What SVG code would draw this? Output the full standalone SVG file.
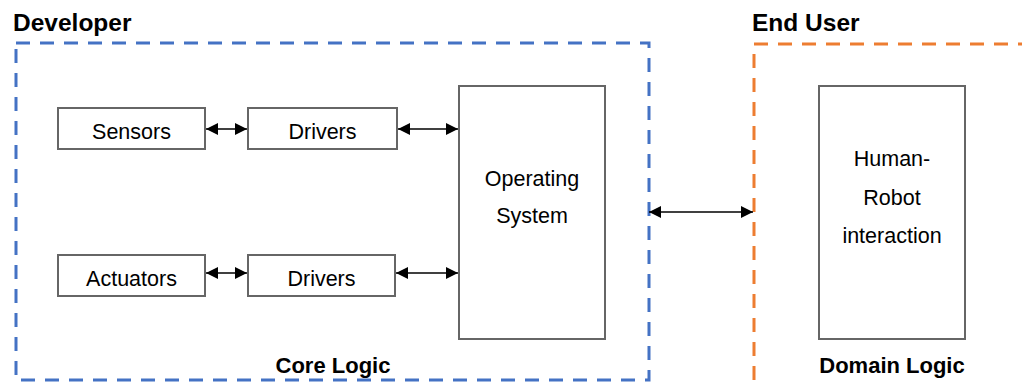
<svg xmlns="http://www.w3.org/2000/svg" width="1022" height="383" viewBox="0 0 1022 383">
  <style>
    .box { fill: #fff; stroke: #666; stroke-width: 2; }
    .lbl { font-family: "Liberation Sans", Arial, sans-serif; font-size: 21.5px; fill: #000; text-anchor: middle; }
    .title { font-family: "Liberation Sans", Arial, sans-serif; font-size: 24.5px; font-weight: bold; fill: #000; }
    .cap { font-family: "Liberation Sans", Arial, sans-serif; font-size: 22px; font-weight: bold; fill: #000; text-anchor: middle; }
    .zone { fill: none; stroke-width: 3; stroke-dasharray: 14 10; }
    .link { stroke: #000; stroke-width: 1.5; fill: none; marker-start: url(#ah); marker-end: url(#ah); }
  </style>
  <defs>
    <marker id="ah" viewBox="0 0 12 12" refX="12" refY="6" markerWidth="12" markerHeight="12" markerUnits="userSpaceOnUse" orient="auto-start-reverse">
      <path d="M0,0 L12,6 L0,12 Z" fill="#000"/>
    </marker>
  </defs>
  <rect width="1022" height="383" fill="#fff"/>

  <!-- zones -->
  <g id="developer">
    <rect class="zone" x="16" y="43" width="633" height="337" stroke="#4472C4"/>
    <text class="title" x="13" y="31">Developer</text>
    <text class="cap" x="333" y="373">Core Logic</text>
  </g>
  <g id="end-user">
    <rect class="zone" x="754" y="44" width="300" height="360" stroke="#ED7D31"/>
    <text class="title" x="752" y="31">End User</text>
    <text class="cap" x="892" y="373">Domain Logic</text>
  </g>

  <!-- nodes -->
  <g id="sensors">
    <rect class="box" x="58" y="108" width="147" height="41"/>
    <text class="lbl" x="131.5" y="139">Sensors</text>
  </g>
  <g id="drivers-top">
    <rect class="box" x="248" y="108" width="149" height="41"/>
    <text class="lbl" x="322.5" y="139">Drivers</text>
  </g>
  <g id="actuators">
    <rect class="box" x="58" y="255" width="147" height="41"/>
    <text class="lbl" x="131.5" y="286">Actuators</text>
  </g>
  <g id="drivers-bottom">
    <rect class="box" x="248" y="255" width="147" height="41"/>
    <text class="lbl" x="321.5" y="286">Drivers</text>
  </g>
  <g id="operating-system">
    <rect class="box" x="459" y="86" width="146" height="253"/>
    <text class="lbl" x="532" y="186">Operating</text>
    <text class="lbl" x="532" y="223">System</text>
  </g>
  <g id="hri">
    <rect class="box" x="819" y="86" width="146" height="253"/>
    <text class="lbl" x="892" y="166">Human-</text>
    <text class="lbl" x="892" y="205">Robot</text>
    <text class="lbl" x="892" y="243">interaction</text>
  </g>

  <!-- connectors -->
  <g id="connectors">
    <line class="link" x1="206" y1="129" x2="247" y2="129"/>
    <line class="link" x1="398" y1="129" x2="458" y2="129"/>
    <line class="link" x1="206" y1="273" x2="247" y2="273"/>
    <line class="link" x1="396" y1="273" x2="458" y2="273"/>
    <line class="link" x1="649" y1="212" x2="753" y2="212"/>
  </g>
</svg>
